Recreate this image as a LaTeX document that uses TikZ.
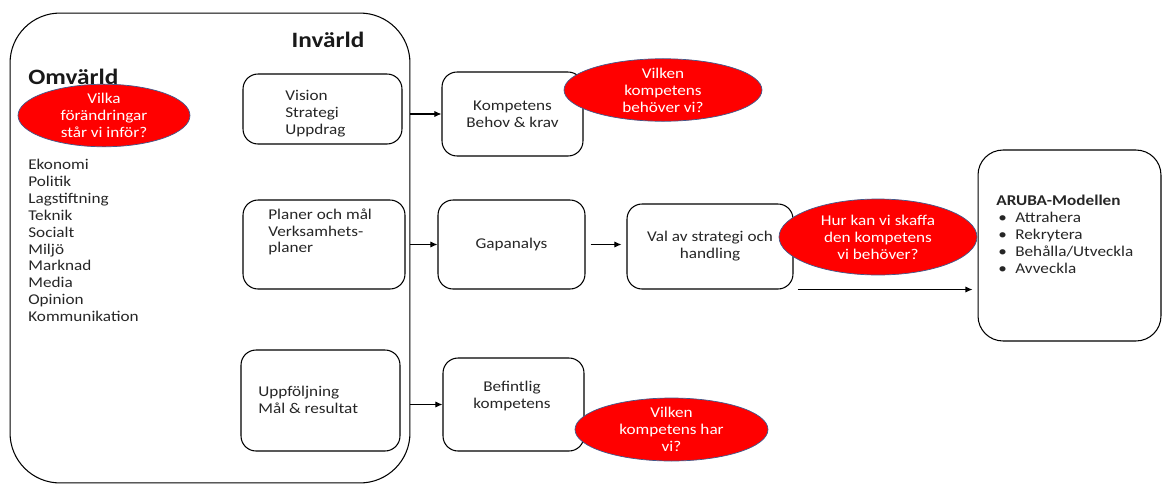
\documentclass[tikz,border=0pt]{standalone}
\usepackage{fontspec}
\setmainfont[FakeStretch=1.15]{Carlito}
\usetikzlibrary{arrows.meta, shapes.geometric, positioning}
\definecolor{fragered}{RGB}{255,0,0}
\definecolor{frageedge}{RGB}{65,90,140}
\newcommand{\arubapt}[1]{\\\hspace*{0.04cm}\makebox[0.34cm][l]{\textbullet}#1}

\begin{document}
\begin{tikzpicture}[x=0.02cm, y=-0.02cm,
  box/.style={draw, line width=0.6pt, rounded corners=0.3cm, inner sep=0pt},
  txt/.style={inner sep=0pt, align=left, text=black!85, font=\fontsize{8.5}{9.6}\selectfont},
  ctxt/.style={txt, align=center},
  fraga/.style={ellipse, fill=fragered, draw=frageedge, line width=0.4pt, inner sep=0pt,
    text=white, align=center, font=\fontsize{8.5}{9.6}\selectfont},
  rubrik/.style={inner sep=0pt, text=black!90, font=\fontsize{12.5}{14}\selectfont\bfseries},
  pil/.style={-{Latex[length=4pt,width=3.5pt]}, line width=0.6pt}]
\useasboundingbox (0,0) rectangle (1163,484);
% Invärld: big frame with the three inner boxes
\node[draw, line width=0.6pt, rounded corners=1cm, minimum width=8cm, minimum height=9.4cm] (invarld) at (210,248) {};
\node[rubrik] (invtitle) at (328,40) {Invärld};
\node[box, minimum width=3.18cm, minimum height=1.4cm] (vision) at (322.5,109) {};
\node[txt, anchor=west] (visiontxt) at (285,114) {Vision\\Strategi\\Uppdrag};
\node[box, minimum width=3.24cm, minimum height=1.78cm] (planer) at (324,244.5) {};
\node[txt, anchor=west] (planertxt) at (268,232) {Planer och mål\\Verksamhets-\\planer};
\node[box, minimum width=3.18cm, minimum height=2.02cm] (uppf) at (320.5,400.5) {};
\node[txt, anchor=west] (uppftxt) at (258,400) {Uppföljning\\Mål \& resultat};
% Omvärld
\node[rubrik, anchor=west] (omvtitle) at (28,77) {Omvärld};
\node[txt, anchor=west] (omvlist) at (28,240.5) {Ekonomi\\Politik\\Lagstiftning\\Teknik\\Socialt\\Miljö\\Marknad\\Media\\Opinion\\Kommunikation};
\node[fraga, minimum width=3.44cm, minimum height=1.1cm] (fraga1) at (104,115.5) {Vilka\\förändringar\\står vi inför?};
% Kompetens column
\node[box, ctxt, minimum width=2.82cm, minimum height=1.68cm] (komp) at (512.5,114) {Kompetens\\Behov \& krav};
\node[box, ctxt, minimum width=2.94cm, minimum height=1.78cm] (gap) at (511.5,244.5) {Gapanalys};
\node[box, minimum width=2.82cm, minimum height=1.86cm] (befint) at (513.5,404.5) {};
\node[ctxt] (befinttxt) at (512,396) {Befintlig\\kompetens};
\node[box, ctxt, minimum width=3.32cm, minimum height=1.7cm] (val) at (710,246.5) {Val av strategi och\\handling};
% ARUBA
\node[box, rounded corners=0.5cm, minimum width=3.66cm, minimum height=3.82cm] (aruba) at (1069.5,245.5) {};
\node[txt, anchor=north west] (arubatxt) at (996,195) {\textbf{ARUBA-Modellen}\arubapt{Attrahera}\arubapt{Rekrytera}\arubapt{Behålla/Utveckla}\arubapt{Avveckla}};
% Questions
\node[fraga, minimum width=3.96cm, minimum height=1.12cm] (fraga2) at (663,90) {Vilken\\kompetens\\behöver vi?};
\node[fraga, minimum width=3.96cm, minimum height=1.52cm] (fraga3) at (878,237) {Hur kan vi skaffa\\den kompetens\\vi behöver?};
\node[fraga, minimum width=3.86cm, minimum height=1.26cm] (fraga4) at (671.5,429.5) {Vilken\\kompetens har\\vi?};
% arrows
\draw[pil] (invarld.east |- komp.west) -- (komp.west);
\draw[pil] (invarld.east |- gap.west) -- (gap.west);
\draw[pil] (invarld.east |- befint.west) -- (befint.west);
\draw[pil, shorten <=0.1cm, shorten >=0.1cm] (gap.east) -- (gap.east -| val.west);
\draw[pil, shorten >=0.1cm] ([xshift=0.08cm]val.south east) -- (aruba.west |- val.south east);
\end{tikzpicture}
\end{document}
